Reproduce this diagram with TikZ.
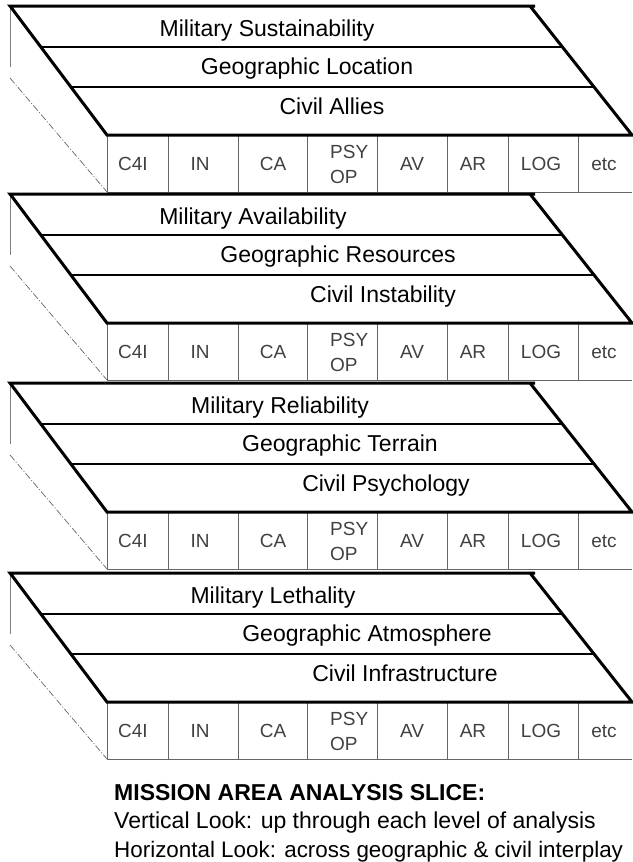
\documentclass[tikz,border=0pt]{standalone}
\usepackage{fontspec}
\setmainfont{Liberation Sans}
\usetikzlibrary{calc}

\tikzset{
  slabedge/.style={line width=3pt, line join=miter},
  rowline/.style={line width=1.3pt},
  tabline/.style={line width=0.8pt, black!60},
  ghost/.style={line width=0.6pt, black!50},
  ghostdash/.style={line width=0.7pt, black!60, dash pattern=on 7pt off 2pt on 1pt off 2pt},
  rowlabel/.style={font=\fontsize{23}{27}\selectfont, anchor=base, inner sep=0pt},
  tablabel/.style={font=\fontsize{19}{22}\selectfont, text=black!75, anchor=base, inner sep=0pt},
  notelabel/.style={font=\fontsize{23}{28}\selectfont, anchor=base west, inner sep=0pt},
}

\begin{document}
\begin{tikzpicture}[x=1pt,y=-1pt]
  \useasboundingbox (0,0) rectangle (632,862);
  \foreach \k/\T/\mx/\gx/\cx/\mil/\geo/\civ in {
      1/6/267/307/332/Sustainability/Location/Allies,
      2/194/253/338/383/Availability/Resources/Instability,
      3/383/280/340/386/Reliability/Terrain/Psychology,
      4/573/273/367/405/Lethality/Atmosphere/Infrastructure}{
    \coordinate (tl\k) at (10,\T);
    \coordinate (tr\k) at (535,\T);
    \coordinate (sr\k) at (530,\T);
    \coordinate (bl\k) at (107,\T+129);
    \coordinate (br\k) at (632,\T+129);
    \coordinate (gv\k) at (10,\T+61);
    \coordinate (gd\k) at (10,\T+72);
    \coordinate (tb\k) at (107,\T+186);
    \coordinate (tbr\k) at (632,\T+186);
    % side ghost lines and tab row
    \draw[ghost] (tl\k) -- (gv\k);
    \draw[ghostdash] (gd\k) -- (tb\k);
    \draw[tabline] (tb\k) -- (tbr\k);
    \foreach \x in {107,168,238,307,377,447,508,578}
      \draw[tabline] (\x,\T+129) -- (\x,\T+186);
    \foreach \x/\t in {133/C4I,200/IN,273/CA,412/AV,473/AR,541/LOG,604/etc}
      \node[tablabel] (tab\k\t) at (\x,\T+164) {\t};
    \node[tablabel, anchor=base west] (psy\k) at (330,\T+152) {PSY};
    \node[tablabel, anchor=base west] (op\k) at (330,\T+177) {OP};
    % slab
    \draw[rowline] ($(tl\k)!0.318!(bl\k)$) -- ($(sr\k)!0.318!(br\k)$);
    \draw[rowline] ($(tl\k)!0.628!(bl\k)$) -- ($(sr\k)!0.628!(br\k)$);
    \draw[slabedge] (tr\k) -- (tl\k) -- (bl\k) -- (br\k) -- (sr\k);
    \node[rowlabel] (mil\k) at (\mx,\T+30) {Military \mil};
    \node[rowlabel] (geo\k) at (\gx,\T+68) {Geographic \geo};
    \node[rowlabel] (civ\k) at (\cx,\T+108) {Civil \civ};
  }
  \node[notelabel, font=\fontsize{23}{28}\selectfont\bfseries] (title) at (114,800) {MISSION AREA ANALYSIS SLICE:};
  \node[notelabel] (vlook) at (114,828) {Vertical Look: up through each level of analysis};
  \node[notelabel, font=\fontsize{22.4}{28}\selectfont] (hlook) at (114,857) {Horizontal Look: across geographic \& civil interplay};
\end{tikzpicture}
\end{document}
